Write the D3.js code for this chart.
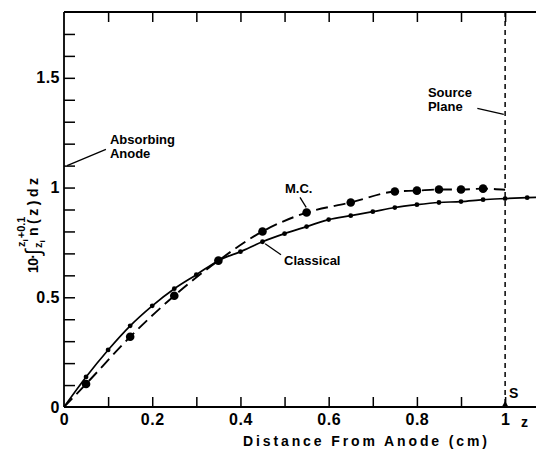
<!DOCTYPE html>
<html>
<head>
<meta charset="utf-8">
<script src="https://cdn.jsdelivr.net/npm/d3@7"></script>
<style>
  body { margin: 0; background: #fff; }
  svg { display: block; font-family: "Liberation Sans", Arial, sans-serif; font-weight: bold; }
</style>
</head>
<body>
<div id="chart"></div>
<script>
// values
const classicalZ = [0, 0.05, 0.1, 0.15, 0.2, 0.25, 0.3, 0.35, 0.4, 0.45, 0.5, 0.55, 0.6, 0.65, 0.7, 0.75, 0.8, 0.85, 0.9, 0.95, 1.0, 1.05, 1.1];
const classicalN = [0, 0.137, 0.26, 0.37, 0.461, 0.539, 0.603, 0.667, 0.708, 0.753, 0.79, 0.822, 0.854, 0.872, 0.89, 0.909, 0.922, 0.932, 0.936, 0.945, 0.95, 0.954, 0.957];

const mcZ = [0, 0.05, 0.15, 0.25, 0.35, 0.45, 0.55, 0.65, 0.75, 0.8, 0.85, 0.9, 0.95, 1.0];
const mcN = [0, 0.105, 0.32, 0.507, 0.667, 0.8, 0.886, 0.932, 0.982, 0.986, 0.991, 0.991, 0.995, 0.99];

const xTickLabels = [0, 0.2, 0.4, 0.6, 0.8, 1];
const yTickLabels = [0, 0.5, 1, 1.5];
const sourcePlane = 1.0;

const W = 536, H = 451;
const margin = {left: 64, top: 12, bottom: 44};

const svg = d3.select("#chart").append("svg")
  .attr("width", W).attr("height", H);

const x = d3.scaleLinear().domain([0, 1.07]).range([margin.left, W]);
const y = d3.scaleLinear().domain([0, 1.8]).range([H - margin.bottom, margin.top]);

svg.append("clipPath").attr("id", "plot")
  .append("rect")
  .attr("x", x(0)).attr("y", y(1.8))
  .attr("width", W - x(0)).attr("height", y(0) - y(1.8));

// frame
const frame = svg.append("g").attr("stroke", "#000").attr("stroke-width", 1.8);
frame.append("line").attr("x1", x(0)).attr("x2", W).attr("y1", y(0)).attr("y2", y(0));
frame.append("line").attr("x1", x(0)).attr("x2", W).attr("y1", y(1.8)).attr("y2", y(1.8));
frame.append("line").attr("x1", x(0)).attr("x2", x(0)).attr("y1", y(0)).attr("y2", y(1.8));

const minorX = d3.range(1, 11).map(d => d / 10);
const minorY = d3.range(1, 18).map(d => d / 10);

// bottom ticks (inward)
svg.append("g")
  .attr("transform", `translate(0,${y(0)})`)
  .call(d3.axisBottom(x).tickValues(minorX).tickSize(-10).tickFormat(""))
  .call(g => g.select(".domain").remove())
  .call(g => g.selectAll("line").attr("stroke-width", 1.5));

// top ticks (inward)
svg.append("g")
  .attr("transform", `translate(0,${y(1.8)})`)
  .call(d3.axisTop(x).tickValues(minorX).tickSize(-10).tickFormat(""))
  .call(g => g.select(".domain").remove())
  .call(g => g.selectAll("line").attr("stroke-width", 1.5));

// left ticks (inward)
svg.append("g")
  .attr("transform", `translate(${x(0)},0)`)
  .call(d3.axisLeft(y).tickValues(minorY).tickSize(-11).tickFormat(""))
  .call(g => g.select(".domain").remove())
  .call(g => g.selectAll("line").attr("stroke-width", 1.5));

// labels
svg.append("g")
  .attr("transform", `translate(0,${y(0)})`)
  .call(d3.axisBottom(x).tickValues(xTickLabels).tickSize(0).tickPadding(7).tickFormat(d3.format("")))
  .call(g => g.select(".domain").remove())
  .call(g => g.selectAll("text").attr("font-size", 16).attr("font-family", "Liberation Sans, Arial")
    .attr("font-weight", "bold").attr("fill", "#000").attr("letter-spacing", 0.5));

svg.append("g")
  .attr("transform", `translate(${x(0)},0)`)
  .call(d3.axisLeft(y).tickValues(yTickLabels).tickSize(0).tickPadding(4).tickFormat(d3.format("")))
  .call(g => g.select(".domain").remove())
  .call(g => g.selectAll("text").attr("font-size", 16).attr("font-family", "Liberation Sans, Arial")
    .attr("font-weight", "bold").attr("fill", "#000").attr("letter-spacing", 0.5));

svg.append("text")
  .attr("x", 243).attr("y", 446)
  .attr("font-size", 14)
  .attr("textLength", 244).attr("lengthAdjust", "spacing")
  .text("Distance From Anode (cm)");

// y label: 10·∫ from z_i to z_i+0.1 of n(z) dz
const yl = svg.append("g").attr("transform", "translate(38,273) rotate(-90)");
yl.append("text").attr("x", 0).attr("y", 0).attr("font-size", 14)
  .attr("textLength", 19).attr("lengthAdjust", "spacing").text("10·");
yl.append("text").attr("x", 18).attr("y", 2).attr("font-size", 21)
  .attr("font-weight", "normal").attr("font-style", "italic").text("∫");
const sup = yl.append("text").attr("x", 26).attr("y", -13).attr("font-size", 11);
sup.append("tspan").text("z");
sup.append("tspan").attr("font-size", 8).attr("dy", 3).text("i");
sup.append("tspan").attr("dy", -3).attr("dx", 1).text("+0.1");
const sub = yl.append("text").attr("x", 25).attr("y", 4).attr("font-size", 11);
sub.append("tspan").text("z");
sub.append("tspan").attr("font-size", 8).attr("dy", 3).text("i");
yl.append("text").attr("x", 37).attr("y", 0).attr("font-size", 14)
  .attr("textLength", 58).attr("lengthAdjust", "spacing").text("n(z)dz");

// source plane
svg.append("line")
  .attr("x1", x(sourcePlane)).attr("x2", x(sourcePlane))
  .attr("y1", y(1.8)).attr("y2", y(0))
  .attr("stroke", "#000").attr("stroke-width", 1.5).attr("stroke-dasharray", "5,4");
svg.append("path")
  .attr("d", d3.symbol(d3.symbolTriangle, 20)())
  .attr("transform", `translate(${x(sourcePlane)},${y(0) - 2})`);

// curves
const classical = classicalZ.map((z, i) => ({z, n: classicalN[i]}));
const mc = mcZ.map((z, i) => ({z, n: mcN[i]}));

const line = d3.line().x(d => x(d.z)).y(d => y(d.n)).curve(d3.curveMonotoneX);
const plot = svg.append("g").attr("clip-path", "url(#plot)");

plot.append("path").datum(classical)
  .attr("fill", "none").attr("stroke", "#000").attr("stroke-width", 1.7)
  .attr("d", line);
plot.append("path").datum(mc)
  .attr("fill", "none").attr("stroke", "#000").attr("stroke-width", 1.9)
  .attr("stroke-dasharray", "12,6")
  .attr("d", line);

plot.selectAll(".cdot").data(classical.slice(1)).join("circle")
  .attr("cx", d => x(d.z)).attr("cy", d => y(d.n)).attr("r", 2.4);
plot.selectAll(".mdot").data(mc.slice(1, -1)).join("circle")
  .attr("cx", d => x(d.z)).attr("cy", d => y(d.n)).attr("r", 4.3);

// annotations
const notes = [
  {lines: ["Absorbing", "Anode"], tx: 0.104, ty: 1.2, from: [0.095, 1.174], to: [0.007, 1.1]},
  {lines: ["Source", "Plane"], tx: 0.825, ty: 1.414, from: [0.937, 1.361], to: [0.997, 1.334]},
  {lines: ["M.C."], tx: 0.501, ty: 0.975, from: [0.535, 0.955], to: [0.549, 0.91]},
  {lines: ["Classical"], tx: 0.499, ty: 0.648, from: [0.492, 0.694], to: [0.456, 0.744]}
];
notes.forEach(n => {
  n.lines.forEach((l, i) => svg.append("text").attr("font-size", 13)
    .attr("x", x(n.tx)).attr("y", y(n.ty) + i * 14).text(l));
  svg.append("line")
    .attr("x1", x(n.from[0])).attr("y1", y(n.from[1]))
    .attr("x2", x(n.to[0])).attr("y2", y(n.to[1]))
    .attr("stroke", "#000").attr("stroke-width", 1.3);
});

svg.append("text").attr("x", x(1.009)).attr("y", y(0.04)).attr("font-size", 14).text("S");
svg.append("text").attr("x", x(1.036)).attr("y", 427).attr("font-size", 14).text("z");
</script>
</body>
</html>
